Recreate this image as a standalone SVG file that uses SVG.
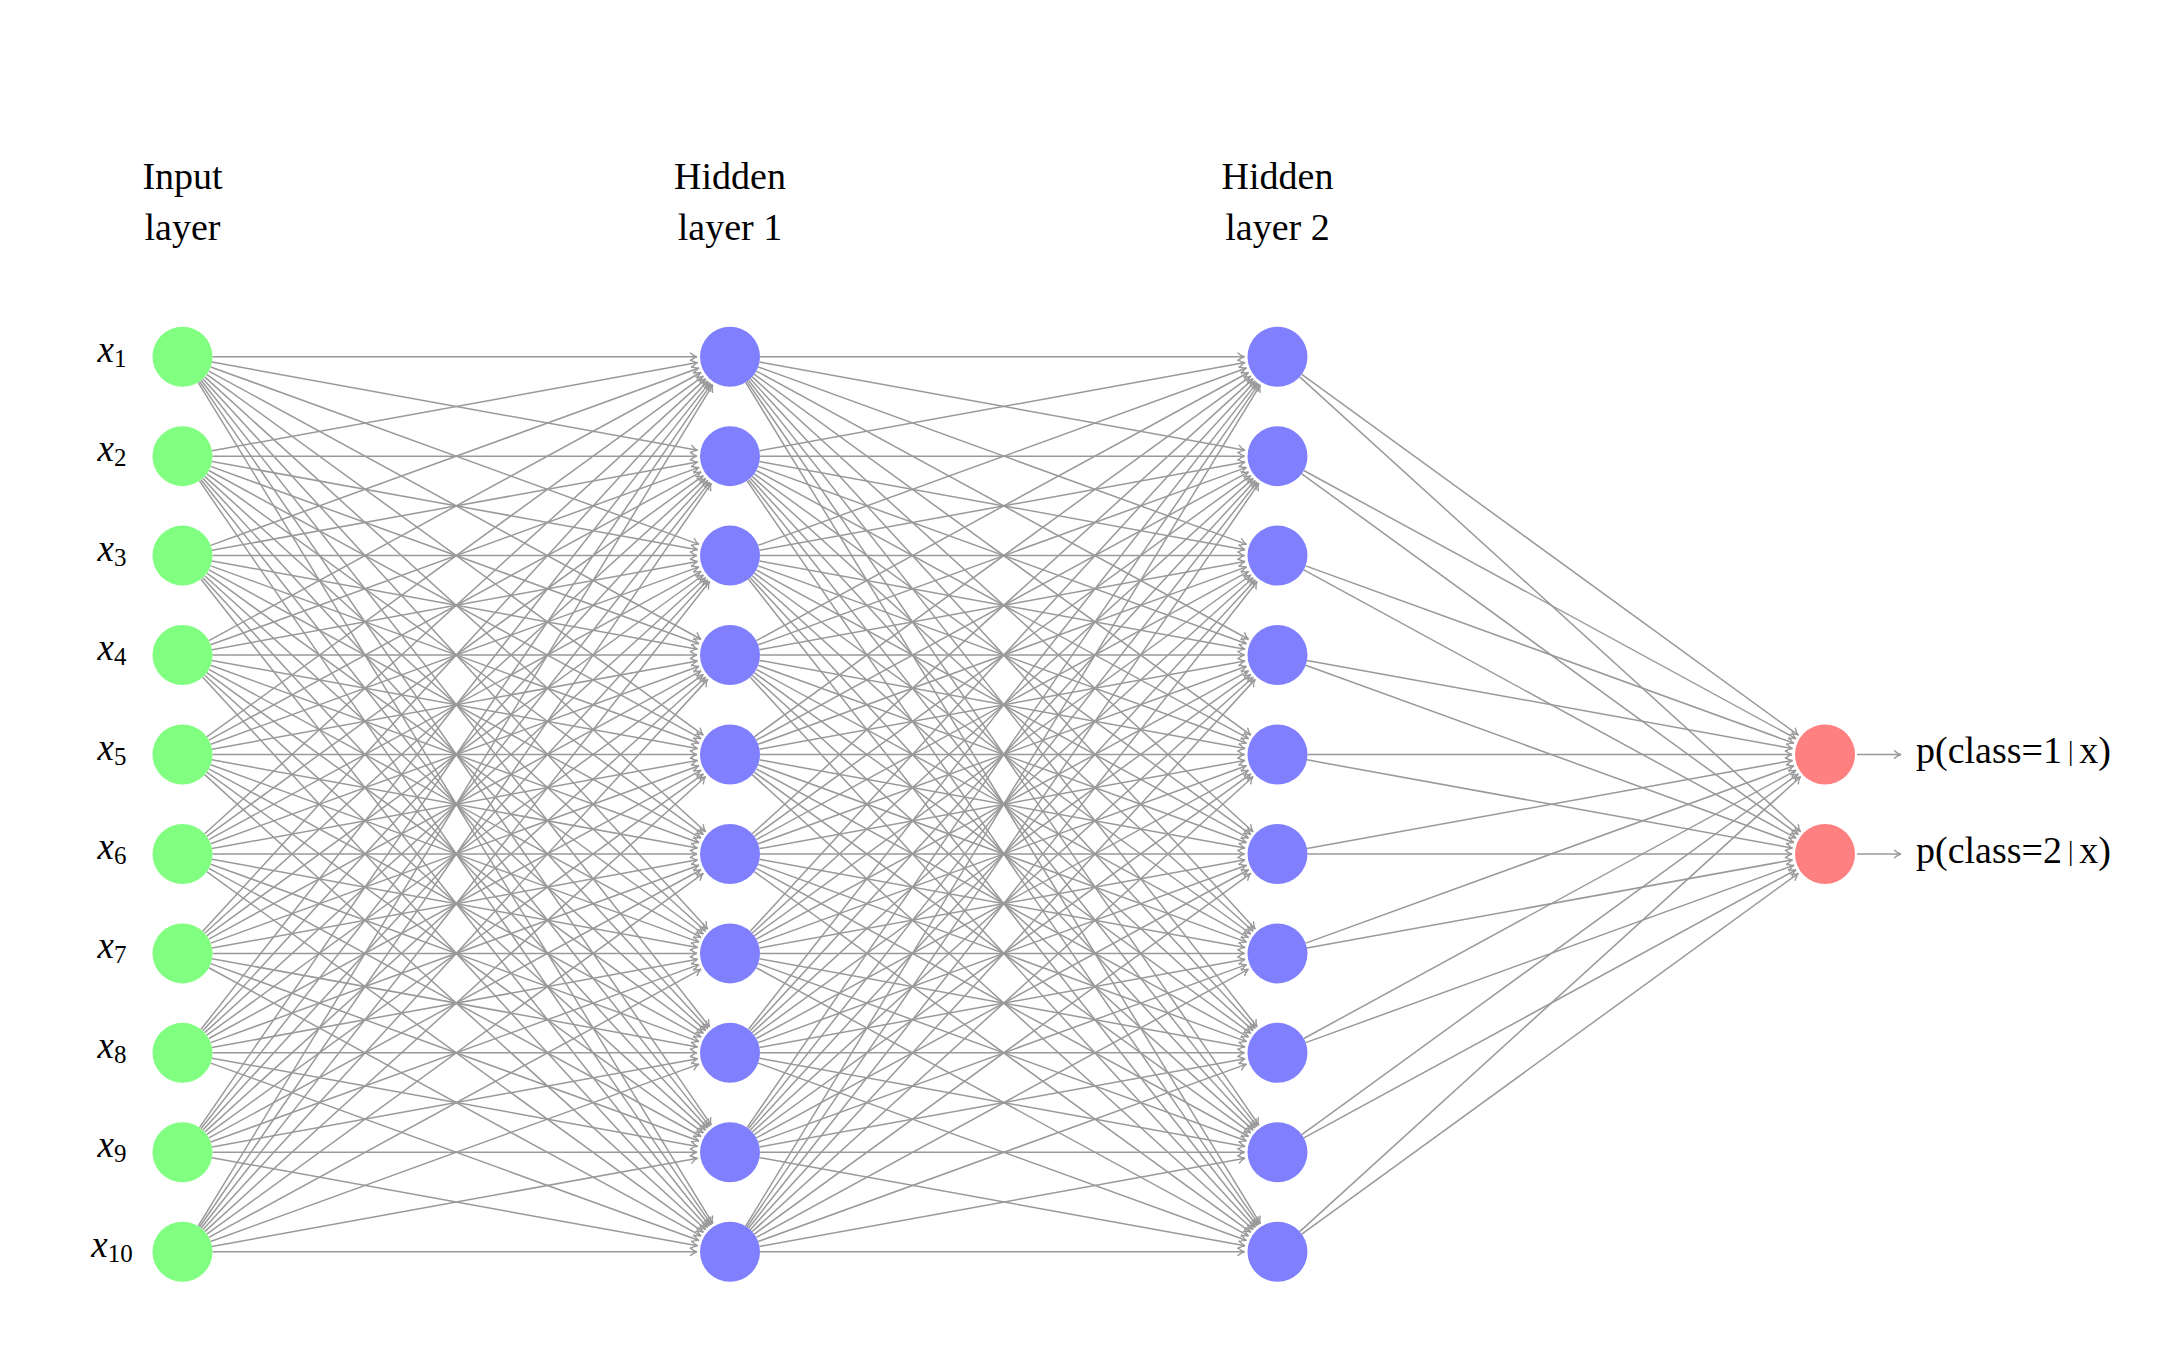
<svg xmlns="http://www.w3.org/2000/svg" width="2160" height="1350" viewBox="0 0 2160 1350">
<defs>
<marker id="arr" markerUnits="userSpaceOnUse" orient="auto" refX="0" refY="0" markerWidth="12" markerHeight="12" overflow="visible">
<path d="M-6.5,-3.8 C-4.2,-1.6 -1.6,-0.3 0,0 C-1.6,0.3 -4.2,1.6 -6.5,3.8" fill="none" stroke="#999999" stroke-width="1.4" stroke-linecap="round"/>
</marker>
<style>
.e{fill:none;stroke:#999999;stroke-width:1.5;marker-end:url(#arr)}
.in{fill:#80ff80}
.hid{fill:#8080ff}
.out{fill:#ff8080}
.title{font-family:"Liberation Serif","DejaVu Serif",serif;font-size:38px;fill:#000;text-anchor:middle}
.xl{font-family:"Liberation Serif","DejaVu Serif",serif;font-size:37px;font-style:italic;fill:#000;text-anchor:middle}
.sub{font-style:normal;font-size:25px}
.ol{font-family:"Liberation Serif","DejaVu Serif",serif;font-size:38px;fill:#000}
.bar{font-size:27px}
</style>
</defs>
<rect width="2160" height="1350" fill="#ffffff"/>

<g id="titles">
<text class="title" x="182.5" y="189">Input</text>
<text class="title" x="182.5" y="240">layer</text>
<text class="title" x="730" y="189">Hidden</text>
<text class="title" x="730" y="240">layer 1</text>
<text class="title" x="1277.5" y="189">Hidden</text>
<text class="title" x="1277.5" y="240">layer 2</text>
</g>

<g id="connectors">
<!-- input layer -> hidden layer 1 -->
<g transform="translate(182.5,356.7)">
<path class="e" d="M30 0L514.5 0"/>
<path class="e" d="M29.52 5.36L515.03 93.55"/>
<path class="e" d="M28.2 10.24L516.48 187.63"/>
<path class="e" d="M26.34 14.36L518.52 282.56"/>
<path class="e" d="M24.27 17.63L520.8 378.4"/>
<path class="e" d="M22.21 20.17L523.07 475.06"/>
<path class="e" d="M20.28 22.11L525.19 572.38"/>
<path class="e" d="M18.55 23.58L527.1 670.21"/>
<path class="e" d="M17.01 24.71L528.79 768.41"/>
<path class="e" d="M15.65 25.59L530.28 866.9"/>
</g>
<g transform="translate(182.5,456.15)">
<path class="e" d="M29.52 -5.36L515.03 -93.55"/>
<path class="e" d="M30 0L514.5 0"/>
<path class="e" d="M29.52 5.36L515.03 93.55"/>
<path class="e" d="M28.2 10.24L516.48 187.63"/>
<path class="e" d="M26.34 14.36L518.52 282.56"/>
<path class="e" d="M24.27 17.63L520.8 378.4"/>
<path class="e" d="M22.21 20.17L523.07 475.06"/>
<path class="e" d="M20.28 22.11L525.19 572.38"/>
<path class="e" d="M18.55 23.58L527.1 670.21"/>
<path class="e" d="M17.01 24.71L528.79 768.41"/>
</g>
<g transform="translate(182.5,555.6)">
<path class="e" d="M28.2 -10.24L516.48 -187.63"/>
<path class="e" d="M29.52 -5.36L515.03 -93.55"/>
<path class="e" d="M30 0L514.5 0"/>
<path class="e" d="M29.52 5.36L515.03 93.55"/>
<path class="e" d="M28.2 10.24L516.48 187.63"/>
<path class="e" d="M26.34 14.36L518.52 282.56"/>
<path class="e" d="M24.27 17.63L520.8 378.4"/>
<path class="e" d="M22.21 20.17L523.07 475.06"/>
<path class="e" d="M20.28 22.11L525.19 572.38"/>
<path class="e" d="M18.55 23.58L527.1 670.21"/>
</g>
<g transform="translate(182.5,655.05)">
<path class="e" d="M26.34 -14.36L518.52 -282.56"/>
<path class="e" d="M28.2 -10.24L516.48 -187.63"/>
<path class="e" d="M29.52 -5.36L515.03 -93.55"/>
<path class="e" d="M30 0L514.5 0"/>
<path class="e" d="M29.52 5.36L515.03 93.55"/>
<path class="e" d="M28.2 10.24L516.48 187.63"/>
<path class="e" d="M26.34 14.36L518.52 282.56"/>
<path class="e" d="M24.27 17.63L520.8 378.4"/>
<path class="e" d="M22.21 20.17L523.07 475.06"/>
<path class="e" d="M20.28 22.11L525.19 572.38"/>
</g>
<g transform="translate(182.5,754.5)">
<path class="e" d="M24.27 -17.63L520.8 -378.4"/>
<path class="e" d="M26.34 -14.36L518.52 -282.56"/>
<path class="e" d="M28.2 -10.24L516.48 -187.63"/>
<path class="e" d="M29.52 -5.36L515.03 -93.55"/>
<path class="e" d="M30 0L514.5 0"/>
<path class="e" d="M29.52 5.36L515.03 93.55"/>
<path class="e" d="M28.2 10.24L516.48 187.63"/>
<path class="e" d="M26.34 14.36L518.52 282.56"/>
<path class="e" d="M24.27 17.63L520.8 378.4"/>
<path class="e" d="M22.21 20.17L523.07 475.06"/>
</g>
<g transform="translate(182.5,853.95)">
<path class="e" d="M22.21 -20.17L523.07 -475.06"/>
<path class="e" d="M24.27 -17.63L520.8 -378.4"/>
<path class="e" d="M26.34 -14.36L518.52 -282.56"/>
<path class="e" d="M28.2 -10.24L516.48 -187.63"/>
<path class="e" d="M29.52 -5.36L515.03 -93.55"/>
<path class="e" d="M30 0L514.5 0"/>
<path class="e" d="M29.52 5.36L515.03 93.55"/>
<path class="e" d="M28.2 10.24L516.48 187.63"/>
<path class="e" d="M26.34 14.36L518.52 282.56"/>
<path class="e" d="M24.27 17.63L520.8 378.4"/>
</g>
<g transform="translate(182.5,953.4)">
<path class="e" d="M20.28 -22.11L525.19 -572.38"/>
<path class="e" d="M22.21 -20.17L523.07 -475.06"/>
<path class="e" d="M24.27 -17.63L520.8 -378.4"/>
<path class="e" d="M26.34 -14.36L518.52 -282.56"/>
<path class="e" d="M28.2 -10.24L516.48 -187.63"/>
<path class="e" d="M29.52 -5.36L515.03 -93.55"/>
<path class="e" d="M30 0L514.5 0"/>
<path class="e" d="M29.52 5.36L515.03 93.55"/>
<path class="e" d="M28.2 10.24L516.48 187.63"/>
<path class="e" d="M26.34 14.36L518.52 282.56"/>
</g>
<g transform="translate(182.5,1052.85)">
<path class="e" d="M18.55 -23.58L527.1 -670.21"/>
<path class="e" d="M20.28 -22.11L525.19 -572.38"/>
<path class="e" d="M22.21 -20.17L523.07 -475.06"/>
<path class="e" d="M24.27 -17.63L520.8 -378.4"/>
<path class="e" d="M26.34 -14.36L518.52 -282.56"/>
<path class="e" d="M28.2 -10.24L516.48 -187.63"/>
<path class="e" d="M29.52 -5.36L515.03 -93.55"/>
<path class="e" d="M30 0L514.5 0"/>
<path class="e" d="M29.52 5.36L515.03 93.55"/>
<path class="e" d="M28.2 10.24L516.48 187.63"/>
</g>
<g transform="translate(182.5,1152.3)">
<path class="e" d="M17.01 -24.71L528.79 -768.41"/>
<path class="e" d="M18.55 -23.58L527.1 -670.21"/>
<path class="e" d="M20.28 -22.11L525.19 -572.38"/>
<path class="e" d="M22.21 -20.17L523.07 -475.06"/>
<path class="e" d="M24.27 -17.63L520.8 -378.4"/>
<path class="e" d="M26.34 -14.36L518.52 -282.56"/>
<path class="e" d="M28.2 -10.24L516.48 -187.63"/>
<path class="e" d="M29.52 -5.36L515.03 -93.55"/>
<path class="e" d="M30 0L514.5 0"/>
<path class="e" d="M29.52 5.36L515.03 93.55"/>
</g>
<g transform="translate(182.5,1251.75)">
<path class="e" d="M15.65 -25.59L530.28 -866.9"/>
<path class="e" d="M17.01 -24.71L528.79 -768.41"/>
<path class="e" d="M18.55 -23.58L527.1 -670.21"/>
<path class="e" d="M20.28 -22.11L525.19 -572.38"/>
<path class="e" d="M22.21 -20.17L523.07 -475.06"/>
<path class="e" d="M24.27 -17.63L520.8 -378.4"/>
<path class="e" d="M26.34 -14.36L518.52 -282.56"/>
<path class="e" d="M28.2 -10.24L516.48 -187.63"/>
<path class="e" d="M29.52 -5.36L515.03 -93.55"/>
<path class="e" d="M30 0L514.5 0"/>
</g>

<!-- hidden layer 1 -> hidden layer 2 -->
<g transform="translate(730,356.7)">
<path class="e" d="M30 0L514.5 0"/>
<path class="e" d="M29.52 5.36L515.03 93.55"/>
<path class="e" d="M28.2 10.24L516.48 187.63"/>
<path class="e" d="M26.34 14.36L518.52 282.56"/>
<path class="e" d="M24.27 17.63L520.8 378.4"/>
<path class="e" d="M22.21 20.17L523.07 475.06"/>
<path class="e" d="M20.28 22.11L525.19 572.38"/>
<path class="e" d="M18.55 23.58L527.1 670.21"/>
<path class="e" d="M17.01 24.71L528.79 768.41"/>
<path class="e" d="M15.65 25.59L530.28 866.9"/>
</g>
<g transform="translate(730,456.15)">
<path class="e" d="M29.52 -5.36L515.03 -93.55"/>
<path class="e" d="M30 0L514.5 0"/>
<path class="e" d="M29.52 5.36L515.03 93.55"/>
<path class="e" d="M28.2 10.24L516.48 187.63"/>
<path class="e" d="M26.34 14.36L518.52 282.56"/>
<path class="e" d="M24.27 17.63L520.8 378.4"/>
<path class="e" d="M22.21 20.17L523.07 475.06"/>
<path class="e" d="M20.28 22.11L525.19 572.38"/>
<path class="e" d="M18.55 23.58L527.1 670.21"/>
<path class="e" d="M17.01 24.71L528.79 768.41"/>
</g>
<g transform="translate(730,555.6)">
<path class="e" d="M28.2 -10.24L516.48 -187.63"/>
<path class="e" d="M29.52 -5.36L515.03 -93.55"/>
<path class="e" d="M30 0L514.5 0"/>
<path class="e" d="M29.52 5.36L515.03 93.55"/>
<path class="e" d="M28.2 10.24L516.48 187.63"/>
<path class="e" d="M26.34 14.36L518.52 282.56"/>
<path class="e" d="M24.27 17.63L520.8 378.4"/>
<path class="e" d="M22.21 20.17L523.07 475.06"/>
<path class="e" d="M20.28 22.11L525.19 572.38"/>
<path class="e" d="M18.55 23.58L527.1 670.21"/>
</g>
<g transform="translate(730,655.05)">
<path class="e" d="M26.34 -14.36L518.52 -282.56"/>
<path class="e" d="M28.2 -10.24L516.48 -187.63"/>
<path class="e" d="M29.52 -5.36L515.03 -93.55"/>
<path class="e" d="M30 0L514.5 0"/>
<path class="e" d="M29.52 5.36L515.03 93.55"/>
<path class="e" d="M28.2 10.24L516.48 187.63"/>
<path class="e" d="M26.34 14.36L518.52 282.56"/>
<path class="e" d="M24.27 17.63L520.8 378.4"/>
<path class="e" d="M22.21 20.17L523.07 475.06"/>
<path class="e" d="M20.28 22.11L525.19 572.38"/>
</g>
<g transform="translate(730,754.5)">
<path class="e" d="M24.27 -17.63L520.8 -378.4"/>
<path class="e" d="M26.34 -14.36L518.52 -282.56"/>
<path class="e" d="M28.2 -10.24L516.48 -187.63"/>
<path class="e" d="M29.52 -5.36L515.03 -93.55"/>
<path class="e" d="M30 0L514.5 0"/>
<path class="e" d="M29.52 5.36L515.03 93.55"/>
<path class="e" d="M28.2 10.24L516.48 187.63"/>
<path class="e" d="M26.34 14.36L518.52 282.56"/>
<path class="e" d="M24.27 17.63L520.8 378.4"/>
<path class="e" d="M22.21 20.17L523.07 475.06"/>
</g>
<g transform="translate(730,853.95)">
<path class="e" d="M22.21 -20.17L523.07 -475.06"/>
<path class="e" d="M24.27 -17.63L520.8 -378.4"/>
<path class="e" d="M26.34 -14.36L518.52 -282.56"/>
<path class="e" d="M28.2 -10.24L516.48 -187.63"/>
<path class="e" d="M29.52 -5.36L515.03 -93.55"/>
<path class="e" d="M30 0L514.5 0"/>
<path class="e" d="M29.52 5.36L515.03 93.55"/>
<path class="e" d="M28.2 10.24L516.48 187.63"/>
<path class="e" d="M26.34 14.36L518.52 282.56"/>
<path class="e" d="M24.27 17.63L520.8 378.4"/>
</g>
<g transform="translate(730,953.4)">
<path class="e" d="M20.28 -22.11L525.19 -572.38"/>
<path class="e" d="M22.21 -20.17L523.07 -475.06"/>
<path class="e" d="M24.27 -17.63L520.8 -378.4"/>
<path class="e" d="M26.34 -14.36L518.52 -282.56"/>
<path class="e" d="M28.2 -10.24L516.48 -187.63"/>
<path class="e" d="M29.52 -5.36L515.03 -93.55"/>
<path class="e" d="M30 0L514.5 0"/>
<path class="e" d="M29.52 5.36L515.03 93.55"/>
<path class="e" d="M28.2 10.24L516.48 187.63"/>
<path class="e" d="M26.34 14.36L518.52 282.56"/>
</g>
<g transform="translate(730,1052.85)">
<path class="e" d="M18.55 -23.58L527.1 -670.21"/>
<path class="e" d="M20.28 -22.11L525.19 -572.38"/>
<path class="e" d="M22.21 -20.17L523.07 -475.06"/>
<path class="e" d="M24.27 -17.63L520.8 -378.4"/>
<path class="e" d="M26.34 -14.36L518.52 -282.56"/>
<path class="e" d="M28.2 -10.24L516.48 -187.63"/>
<path class="e" d="M29.52 -5.36L515.03 -93.55"/>
<path class="e" d="M30 0L514.5 0"/>
<path class="e" d="M29.52 5.36L515.03 93.55"/>
<path class="e" d="M28.2 10.24L516.48 187.63"/>
</g>
<g transform="translate(730,1152.3)">
<path class="e" d="M17.01 -24.71L528.79 -768.41"/>
<path class="e" d="M18.55 -23.58L527.1 -670.21"/>
<path class="e" d="M20.28 -22.11L525.19 -572.38"/>
<path class="e" d="M22.21 -20.17L523.07 -475.06"/>
<path class="e" d="M24.27 -17.63L520.8 -378.4"/>
<path class="e" d="M26.34 -14.36L518.52 -282.56"/>
<path class="e" d="M28.2 -10.24L516.48 -187.63"/>
<path class="e" d="M29.52 -5.36L515.03 -93.55"/>
<path class="e" d="M30 0L514.5 0"/>
<path class="e" d="M29.52 5.36L515.03 93.55"/>
</g>
<g transform="translate(730,1251.75)">
<path class="e" d="M15.65 -25.59L530.28 -866.9"/>
<path class="e" d="M17.01 -24.71L528.79 -768.41"/>
<path class="e" d="M18.55 -23.58L527.1 -670.21"/>
<path class="e" d="M20.28 -22.11L525.19 -572.38"/>
<path class="e" d="M22.21 -20.17L523.07 -475.06"/>
<path class="e" d="M24.27 -17.63L520.8 -378.4"/>
<path class="e" d="M26.34 -14.36L518.52 -282.56"/>
<path class="e" d="M28.2 -10.24L516.48 -187.63"/>
<path class="e" d="M29.52 -5.36L515.03 -93.55"/>
<path class="e" d="M30 0L514.5 0"/>
</g>

<!-- hidden layer 2 -> output layer -->
<g transform="translate(1277.5,356.7)">
<path class="e" d="M24.27 17.63L520.8 378.4"/>
<path class="e" d="M22.21 20.17L523.07 475.06"/>
</g>
<g transform="translate(1277.5,456.15)">
<path class="e" d="M26.34 14.36L518.52 282.56"/>
<path class="e" d="M24.27 17.63L520.8 378.4"/>
</g>
<g transform="translate(1277.5,555.6)">
<path class="e" d="M28.2 10.24L516.48 187.63"/>
<path class="e" d="M26.34 14.36L518.52 282.56"/>
</g>
<g transform="translate(1277.5,655.05)">
<path class="e" d="M29.52 5.36L515.03 93.55"/>
<path class="e" d="M28.2 10.24L516.48 187.63"/>
</g>
<g transform="translate(1277.5,754.5)">
<path class="e" d="M30 0L514.5 0"/>
<path class="e" d="M29.52 5.36L515.03 93.55"/>
</g>
<g transform="translate(1277.5,853.95)">
<path class="e" d="M29.52 -5.36L515.03 -93.55"/>
<path class="e" d="M30 0L514.5 0"/>
</g>
<g transform="translate(1277.5,953.4)">
<path class="e" d="M28.2 -10.24L516.48 -187.63"/>
<path class="e" d="M29.52 -5.36L515.03 -93.55"/>
</g>
<g transform="translate(1277.5,1052.85)">
<path class="e" d="M26.34 -14.36L518.52 -282.56"/>
<path class="e" d="M28.2 -10.24L516.48 -187.63"/>
</g>
<g transform="translate(1277.5,1152.3)">
<path class="e" d="M24.27 -17.63L520.8 -378.4"/>
<path class="e" d="M26.34 -14.36L518.52 -282.56"/>
</g>
<g transform="translate(1277.5,1251.75)">
<path class="e" d="M22.21 -20.17L523.07 -475.06"/>
<path class="e" d="M24.27 -17.63L520.8 -378.4"/>
</g>

<!-- outputs -> labels -->
<path class="e" d="M1857 754.5L1901 754.5"/>
<path class="e" d="M1857 853.95L1901 853.95"/>
</g>

<g id="input-layer">
<g id="in1"><circle class="in" cx="182.5" cy="356.7" r="30"/><text class="xl" x="112" y="361.7">x<tspan class="sub" dy="5">1</tspan></text></g>
<g id="in2"><circle class="in" cx="182.5" cy="456.15" r="30"/><text class="xl" x="112" y="461.15">x<tspan class="sub" dy="5">2</tspan></text></g>
<g id="in3"><circle class="in" cx="182.5" cy="555.6" r="30"/><text class="xl" x="112" y="560.6">x<tspan class="sub" dy="5">3</tspan></text></g>
<g id="in4"><circle class="in" cx="182.5" cy="655.05" r="30"/><text class="xl" x="112" y="660.05">x<tspan class="sub" dy="5">4</tspan></text></g>
<g id="in5"><circle class="in" cx="182.5" cy="754.5" r="30"/><text class="xl" x="112" y="759.5">x<tspan class="sub" dy="5">5</tspan></text></g>
<g id="in6"><circle class="in" cx="182.5" cy="853.95" r="30"/><text class="xl" x="112" y="858.95">x<tspan class="sub" dy="5">6</tspan></text></g>
<g id="in7"><circle class="in" cx="182.5" cy="953.4" r="30"/><text class="xl" x="112" y="958.4">x<tspan class="sub" dy="5">7</tspan></text></g>
<g id="in8"><circle class="in" cx="182.5" cy="1052.85" r="30"/><text class="xl" x="112" y="1057.85">x<tspan class="sub" dy="5">8</tspan></text></g>
<g id="in9"><circle class="in" cx="182.5" cy="1152.3" r="30"/><text class="xl" x="112" y="1157.3">x<tspan class="sub" dy="5">9</tspan></text></g>
<g id="in10"><circle class="in" cx="182.5" cy="1251.75" r="30"/><text class="xl" x="112" y="1256.75">x<tspan class="sub" dy="5">10</tspan></text></g>
</g>

<g id="hidden-layer-1">
<g id="h1_1"><circle class="hid" cx="730" cy="356.7" r="30"/></g>
<g id="h1_2"><circle class="hid" cx="730" cy="456.15" r="30"/></g>
<g id="h1_3"><circle class="hid" cx="730" cy="555.6" r="30"/></g>
<g id="h1_4"><circle class="hid" cx="730" cy="655.05" r="30"/></g>
<g id="h1_5"><circle class="hid" cx="730" cy="754.5" r="30"/></g>
<g id="h1_6"><circle class="hid" cx="730" cy="853.95" r="30"/></g>
<g id="h1_7"><circle class="hid" cx="730" cy="953.4" r="30"/></g>
<g id="h1_8"><circle class="hid" cx="730" cy="1052.85" r="30"/></g>
<g id="h1_9"><circle class="hid" cx="730" cy="1152.3" r="30"/></g>
<g id="h1_10"><circle class="hid" cx="730" cy="1251.75" r="30"/></g>
</g>

<g id="hidden-layer-2">
<g id="h2_1"><circle class="hid" cx="1277.5" cy="356.7" r="30"/></g>
<g id="h2_2"><circle class="hid" cx="1277.5" cy="456.15" r="30"/></g>
<g id="h2_3"><circle class="hid" cx="1277.5" cy="555.6" r="30"/></g>
<g id="h2_4"><circle class="hid" cx="1277.5" cy="655.05" r="30"/></g>
<g id="h2_5"><circle class="hid" cx="1277.5" cy="754.5" r="30"/></g>
<g id="h2_6"><circle class="hid" cx="1277.5" cy="853.95" r="30"/></g>
<g id="h2_7"><circle class="hid" cx="1277.5" cy="953.4" r="30"/></g>
<g id="h2_8"><circle class="hid" cx="1277.5" cy="1052.85" r="30"/></g>
<g id="h2_9"><circle class="hid" cx="1277.5" cy="1152.3" r="30"/></g>
<g id="h2_10"><circle class="hid" cx="1277.5" cy="1251.75" r="30"/></g>
</g>

<g id="output-layer">
<g id="out1"><circle class="out" cx="1825" cy="754.5" r="30"/><text class="ol" x="1916" y="763.3">p(class=1<tspan class="bar" dx="6" dy="-3">|</tspan><tspan dx="6" dy="3">x)</tspan></text></g>
<g id="out2"><circle class="out" cx="1825" cy="853.95" r="30"/><text class="ol" x="1916" y="862.75">p(class=2<tspan class="bar" dx="6" dy="-3">|</tspan><tspan dx="6" dy="3">x)</tspan></text></g>
</g>
</svg>
